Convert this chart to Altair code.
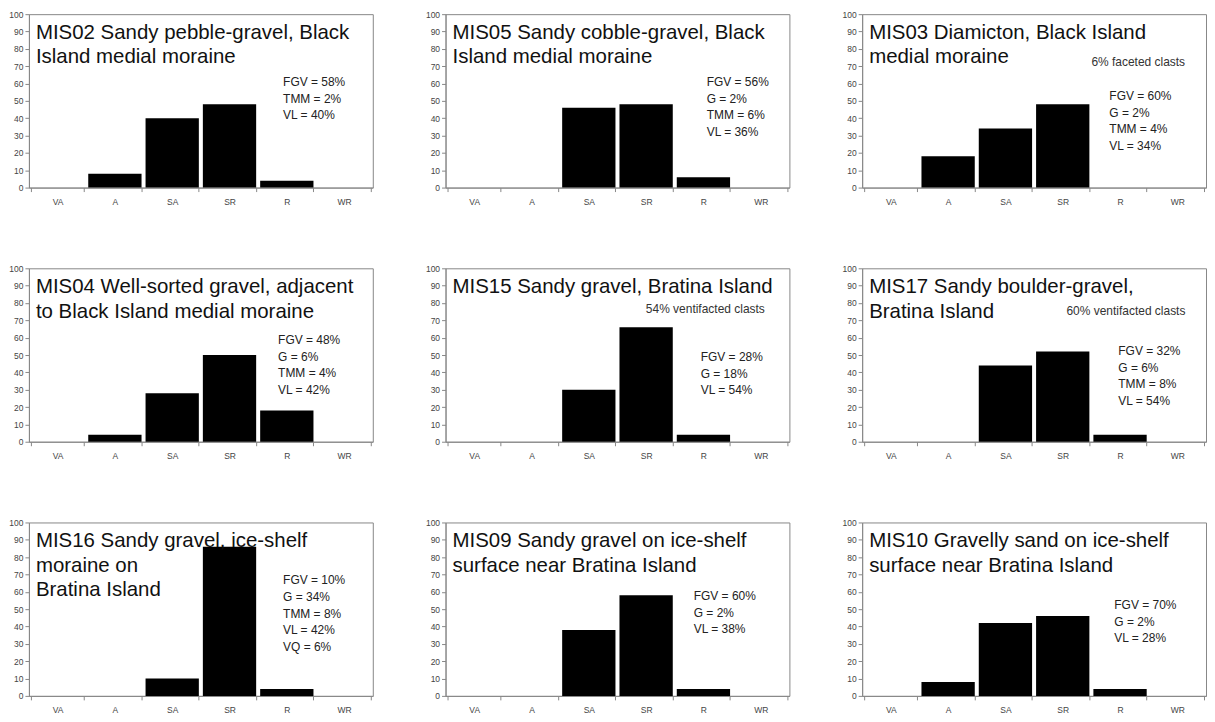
import altair as alt
import pandas as pd

categories = ["VA", "A", "SA", "SR", "R", "WR"]

title_lines = [
    ["MIS02 Sandy pebble-gravel, Black", "Island medial moraine"],
    ["MIS05 Sandy cobble-gravel, Black", "Island medial moraine"],
    ["MIS03 Diamicton, Black Island", "medial moraine"],
    ["MIS04 Well-sorted gravel, adjacent", "to Black Island medial moraine"],
    ["MIS15 Sandy gravel, Bratina Island"],
    ["MIS17 Sandy boulder-gravel,", "Bratina Island"],
    ["MIS16 Sandy gravel, ice-shelf", "moraine on", "Bratina Island"],
    ["MIS09 Sandy gravel on ice-shelf", "surface near Bratina Island"],
    ["MIS10 Gravelly sand on ice-shelf", "surface near Bratina Island"],
]

mis02 = [0, 8, 40, 48, 4, 0]
mis05 = [0, 0, 46, 48, 6, 0]
mis03 = [0, 18, 34, 48, 0, 0]
mis04 = [0, 4, 28, 50, 18, 0]
mis15 = [0, 0, 30, 66, 4, 0]
mis17 = [0, 0, 44, 52, 4, 0]
mis16 = [0, 0, 10, 86, 4, 0]
mis09 = [0, 0, 38, 58, 4, 0]
mis10 = [0, 8, 42, 46, 4, 0]
values = [mis02, mis05, mis03, mis04, mis15, mis17, mis16, mis09, mis10]

stats = [
    ["FGV = 58%", "TMM = 2%", "VL = 40%"],
    ["FGV = 56%", "G = 2%", "TMM = 6%", "VL = 36%"],
    ["FGV = 60%", "G = 2%", "TMM = 4%", "VL = 34%"],
    ["FGV = 48%", "G = 6%", "TMM = 4%", "VL = 42%"],
    ["FGV = 28%", "G = 18%", "VL = 54%"],
    ["FGV = 32%", "G = 6%", "TMM = 8%", "VL = 54%"],
    ["FGV = 10%", "G = 34%", "TMM = 8%", "VL = 42%", "VQ = 6%"],
    ["FGV = 60%", "G = 2%", "VL = 38%"],
    ["FGV = 70%", "G = 2%", "VL = 28%"],
]

notes = ["", "", "6% faceted clasts", "", "54% ventifacted clasts",
         "60% ventifacted clasts", "", "", ""]

# layout (pixel offsets inside each panel)
W, H = 345, 174
stat_pos = [(255, 63), (262, 63), (248, 77), (250, 67), (256, 84),
            (257, 78), (255, 53), (249, 69), (253, 78)]
note_pos = [None, None, (230, 48), None, (201, 41), (205, 43), None, None, None]

FONT = "Liberation Sans"


def panel(i):
    df = pd.DataFrame({"cat": categories, "val": values[i]})
    bars = alt.Chart(df).mark_bar(color="black").encode(
        x=alt.X("cat:N", sort=categories, title=None,
                scale=alt.Scale(paddingInner=0.07, paddingOuter=0.035),
                axis=alt.Axis(labelAngle=0, tickBand="extent", labelPadding=6)),
        y=alt.Y("val:Q", title=None,
                scale=alt.Scale(domain=[0, 100], nice=False),
                axis=alt.Axis(values=list(range(0, 101, 10)), labelPadding=2)),
    )
    one = pd.DataFrame({"k": [0]})
    layers = [bars]
    layers.append(
        alt.Chart(one).mark_text(
            text=title_lines[i], align="left", baseline="top", fontSize=20.5,
            lineHeight=24.5, font=FONT, color="#111",
        ).encode(x=alt.value(7), y=alt.value(9))
    )
    sx, sy = stat_pos[i]
    layers.append(
        alt.Chart(one).mark_text(
            text=stats[i], align="left", baseline="top", fontSize=12,
            lineHeight=16.7, font=FONT, color="#222",
        ).encode(x=alt.value(sx), y=alt.value(sy))
    )
    if notes[i]:
        nx, ny = note_pos[i]
        layers.append(
            alt.Chart(one).mark_text(
                text=notes[i], align="left", baseline="middle", fontSize=12,
                font=FONT, color="#333",
            ).encode(x=alt.value(nx), y=alt.value(ny))
        )
    return alt.layer(*layers).properties(width=W, height=H)


chart = alt.concat(
    *[panel(i) for i in range(9)],
    columns=3,
    spacing={"row": 81, "column": 73},
    bounds="flush",
).properties(
    padding={"left": 0, "top": 0, "right": 0, "bottom": 0},
    background="white",
).configure_view(
    stroke="#888", strokeWidth=1
).configure_axis(
    labelFont=FONT, labelFontSize=8.5, labelColor="#444",
    tickColor="#888", domainColor="#888", tickSize=4, grid=False,
)

chart.save("out.html", embed_options={"renderer": "svg", "actions": False})
